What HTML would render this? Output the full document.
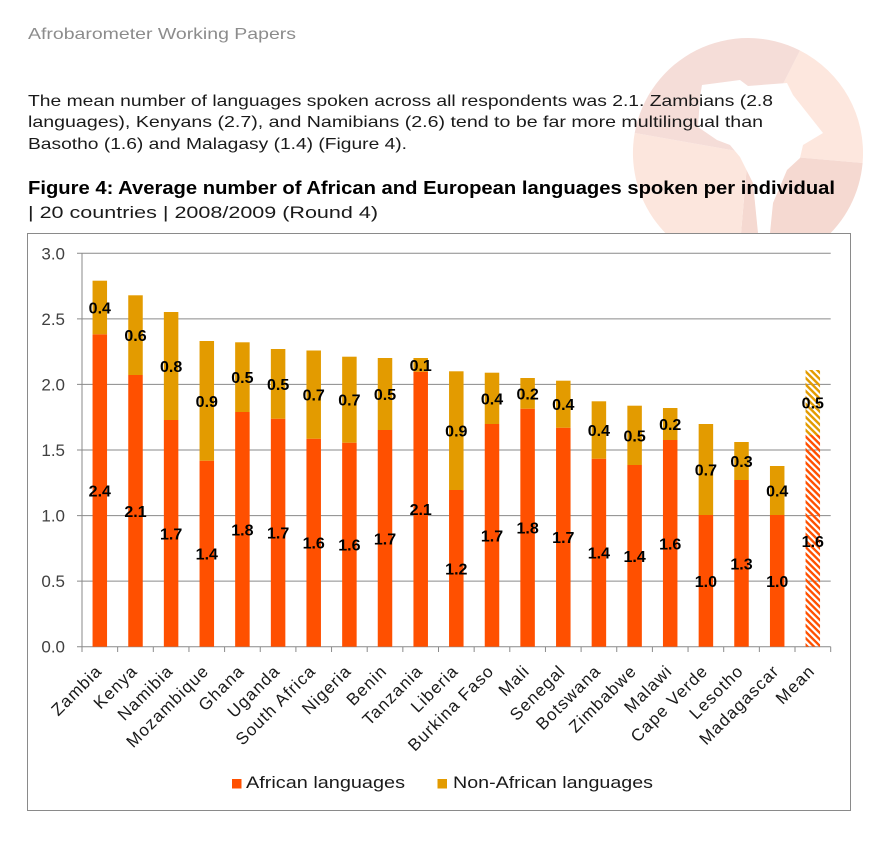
<!DOCTYPE html>
<html><head><meta charset="utf-8">
<style>
html,body{margin:0;padding:0;background:#fff;}
svg{display:block;}
text{font-family:"Liberation Sans",sans-serif;}
</style></head>
<body>
<svg width="871" height="850" viewBox="0 0 871 850" xmlns="http://www.w3.org/2000/svg">
<defs>
<pattern id="hO" width="4.6" height="4.6" patternUnits="userSpaceOnUse" patternTransform="rotate(45)">
<rect x="0" y="0" width="4.6" height="2.4" fill="#FF5000"/>
</pattern>
<pattern id="hG" width="4.6" height="4.6" patternUnits="userSpaceOnUse" patternTransform="rotate(45)">
<rect x="0" y="0" width="4.6" height="2.4" fill="#E39B00"/>
</pattern>
</defs>

<!-- watermark -->
<g>
<path d="M748 153 L800 50.5 A115 115 0 0 1 862.6 163 Z" fill="#fde7de"/>
<path d="M748 153 L862.6 163 A115 115 0 0 1 738 267.6 Z" fill="#f5d9d1"/>
<path d="M748 153 L738 267.6 A115 115 0 0 1 634.7 133 Z" fill="#fce6dd"/>
<path d="M748 153 L634.7 133 A115 115 0 0 1 800 50.5 Z" fill="#f5ddd8"/>
<polygon points="702,85 740,80 748,86 787,83 793,95 823,133 803,145 800,158 787,170 773,203 770,233 758,233 753,183 740,157 730,145 717,140 698,127 700,97" fill="#ffffff"/>
</g>

<!-- header text -->
<text x="28" y="39" font-size="16" fill="#8c8c8c" textLength="268" lengthAdjust="spacingAndGlyphs">Afrobarometer Working Papers</text>
<text x="28" y="106" font-size="16" fill="#1a1a1a" textLength="745" lengthAdjust="spacingAndGlyphs">The mean number of languages spoken across all respondents was 2.1. Zambians (2.8</text>
<text x="28" y="127" font-size="16" fill="#1a1a1a" textLength="735" lengthAdjust="spacingAndGlyphs">languages), Kenyans (2.7), and Namibians (2.6) tend to be far more multilingual than</text>
<text x="28" y="149" font-size="16" fill="#1a1a1a" textLength="379" lengthAdjust="spacingAndGlyphs">Basotho (1.6) and Malagasy (1.4) (Figure 4).</text>
<text x="28" y="194" font-size="18" font-weight="bold" fill="#000" textLength="807" lengthAdjust="spacingAndGlyphs">Figure 4: Average number of African and European languages spoken per individual</text>
<text x="28" y="218" font-size="17" fill="#1a1a1a" textLength="350" lengthAdjust="spacingAndGlyphs">| 20 countries | 2008/2009 (Round 4)</text>

<!-- chart box -->
<rect x="27.5" y="233.5" width="823" height="577" fill="#fff" stroke="#8a8a8a" stroke-width="1"/>

<!-- gridlines -->
<g stroke="#8a8a8a" stroke-width="1">
<line x1="77" y1="253.3" x2="830.7" y2="253.3"/>
<line x1="77" y1="318.9" x2="830.7" y2="318.9"/>
<line x1="77" y1="384.4" x2="830.7" y2="384.4"/>
<line x1="77" y1="450" x2="830.7" y2="450"/>
<line x1="77" y1="515.6" x2="830.7" y2="515.6"/>
<line x1="77" y1="581.1" x2="830.7" y2="581.1"/>
<line x1="77" y1="646.7" x2="830.7" y2="646.7"/>
<line x1="82" y1="253.3" x2="82" y2="646.7"/>
</g>
<!-- x ticks -->
<g stroke="#8a8a8a" stroke-width="1">
<line x1="82" y1="646.7" x2="82" y2="652"/>
<line x1="117.65" y1="646.7" x2="117.65" y2="652"/>
<line x1="153.3" y1="646.7" x2="153.3" y2="652"/>
<line x1="188.95" y1="646.7" x2="188.95" y2="652"/>
<line x1="224.6" y1="646.7" x2="224.6" y2="652"/>
<line x1="260.25" y1="646.7" x2="260.25" y2="652"/>
<line x1="295.9" y1="646.7" x2="295.9" y2="652"/>
<line x1="331.55" y1="646.7" x2="331.55" y2="652"/>
<line x1="367.2" y1="646.7" x2="367.2" y2="652"/>
<line x1="402.85" y1="646.7" x2="402.85" y2="652"/>
<line x1="438.5" y1="646.7" x2="438.5" y2="652"/>
<line x1="474.15" y1="646.7" x2="474.15" y2="652"/>
<line x1="509.8" y1="646.7" x2="509.8" y2="652"/>
<line x1="545.45" y1="646.7" x2="545.45" y2="652"/>
<line x1="581.1" y1="646.7" x2="581.1" y2="652"/>
<line x1="616.75" y1="646.7" x2="616.75" y2="652"/>
<line x1="652.4" y1="646.7" x2="652.4" y2="652"/>
<line x1="688.05" y1="646.7" x2="688.05" y2="652"/>
<line x1="723.7" y1="646.7" x2="723.7" y2="652"/>
<line x1="759.35" y1="646.7" x2="759.35" y2="652"/>
<line x1="795" y1="646.7" x2="795" y2="652"/>
<line x1="830.7" y1="646.7" x2="830.7" y2="652"/>
</g>

<!-- y labels -->
<g font-size="17" fill="#404040" text-anchor="end">
<text x="65" y="259.3">3.0</text>
<text x="65" y="324.9">2.5</text>
<text x="65" y="390.4">2.0</text>
<text x="65" y="456">1.5</text>
<text x="65" y="521.6">1.0</text>
<text x="65" y="587.1">0.5</text>
<text x="65" y="652.7">0.0</text>
</g>

<!-- bars: African (orange) -->
<g fill="#FF5000">
<rect x="92.55" y="334.3" width="14.5" height="312.4"/>
<rect x="128.25" y="375" width="14.5" height="271.7"/>
<rect x="163.85" y="420" width="14.5" height="226.7"/>
<rect x="199.55" y="460.7" width="14.5" height="186"/>
<rect x="235.15" y="412" width="14.5" height="234.7"/>
<rect x="270.85" y="418.7" width="14.5" height="228"/>
<rect x="306.45" y="438.7" width="14.5" height="208"/>
<rect x="342.15" y="442.7" width="14.5" height="204"/>
<rect x="377.75" y="430" width="14.5" height="216.7"/>
<rect x="413.45" y="371.7" width="14.5" height="275"/>
<rect x="449.05" y="490" width="14.5" height="156.7"/>
<rect x="484.75" y="424" width="14.5" height="222.7"/>
<rect x="520.35" y="408.7" width="14.5" height="238"/>
<rect x="556.05" y="427.7" width="14.5" height="219"/>
<rect x="591.65" y="458.7" width="14.5" height="188"/>
<rect x="627.35" y="465" width="14.5" height="181.7"/>
<rect x="662.95" y="440" width="14.5" height="206.7"/>
<rect x="698.65" y="515" width="14.5" height="131.7"/>
<rect x="734.25" y="480" width="14.5" height="166.7"/>
<rect x="769.95" y="515" width="14.5" height="131.7"/>
</g>
<!-- bars: Non-African (gold) -->
<g fill="#E39B00">
<rect x="92.55" y="280.7" width="14.5" height="53.6"/>
<rect x="128.25" y="295.3" width="14.5" height="79.7"/>
<rect x="163.85" y="312" width="14.5" height="108"/>
<rect x="199.55" y="341" width="14.5" height="119.7"/>
<rect x="235.15" y="342.3" width="14.5" height="69.7"/>
<rect x="270.85" y="349" width="14.5" height="69.7"/>
<rect x="306.45" y="350.5" width="14.5" height="88.2"/>
<rect x="342.15" y="356.7" width="14.5" height="86"/>
<rect x="377.75" y="358" width="14.5" height="72"/>
<rect x="413.45" y="358" width="14.5" height="13.7"/>
<rect x="449.05" y="371.3" width="14.5" height="118.7"/>
<rect x="484.75" y="372.7" width="14.5" height="51.3"/>
<rect x="520.35" y="378" width="14.5" height="30.7"/>
<rect x="556.05" y="380.7" width="14.5" height="47"/>
<rect x="591.65" y="401.3" width="14.5" height="57.4"/>
<rect x="627.35" y="405.7" width="14.5" height="59.3"/>
<rect x="662.95" y="408" width="14.5" height="32"/>
<rect x="698.65" y="424" width="14.5" height="91"/>
<rect x="734.25" y="442" width="14.5" height="38"/>
<rect x="769.95" y="466" width="14.5" height="49"/>
</g>
<!-- mean hatched -->
<rect x="805.55" y="435" width="14.5" height="211.7" fill="url(#hO)"/>
<rect x="805.55" y="370" width="14.5" height="65" fill="url(#hG)"/>

<!-- value labels -->
<g font-size="16" font-weight="bold" fill="#000" text-anchor="middle">
<text x="99.8" y="313.5">0.4</text><text x="99.8" y="496.5">2.4</text>
<text x="135.5" y="341.2">0.6</text><text x="135.5" y="516.9">2.1</text>
<text x="171.1" y="372">0.8</text><text x="171.1" y="539.4">1.7</text>
<text x="206.8" y="406.9">0.9</text><text x="206.8" y="559.7">1.4</text>
<text x="242.4" y="383.2">0.5</text><text x="242.4" y="535.4">1.8</text>
<text x="278.1" y="389.9">0.5</text><text x="278.1" y="538.7">1.7</text>
<text x="313.7" y="400.6">0.7</text><text x="313.7" y="548.7">1.6</text>
<text x="349.4" y="405.7">0.7</text><text x="349.4" y="550.7">1.6</text>
<text x="385" y="400">0.5</text><text x="385" y="544.4">1.7</text>
<text x="420.7" y="370.9">0.1</text><text x="420.7" y="515.2">2.1</text>
<text x="456.3" y="436.7">0.9</text><text x="456.3" y="574.4">1.2</text>
<text x="492" y="404.4">0.4</text><text x="492" y="541.4">1.7</text>
<text x="527.6" y="399.4">0.2</text><text x="527.6" y="533.7">1.8</text>
<text x="563.3" y="410.2">0.4</text><text x="563.3" y="543.2">1.7</text>
<text x="598.9" y="436">0.4</text><text x="598.9" y="558.7">1.4</text>
<text x="634.6" y="441.4">0.5</text><text x="634.6" y="561.9">1.4</text>
<text x="670.2" y="430">0.2</text><text x="670.2" y="549.4">1.6</text>
<text x="705.9" y="475.5">0.7</text><text x="705.9" y="586.9">1.0</text>
<text x="741.5" y="467">0.3</text><text x="741.5" y="569.4">1.3</text>
<text x="777.2" y="496.5">0.4</text><text x="777.2" y="586.9">1.0</text>
<text x="812.8" y="408.5">0.5</text><text x="812.8" y="546.9">1.6</text>
</g>

<!-- x labels -->
<g font-size="17" fill="#1a1a1a" text-anchor="end" letter-spacing="1.1">
<text transform="translate(103,672) rotate(-45)">Zambia</text>
<text transform="translate(138.5,672) rotate(-45)">Kenya</text>
<text transform="translate(174.1,672) rotate(-45)">Namibia</text>
<text transform="translate(209.8,672) rotate(-45)">Mozambique</text>
<text transform="translate(245.4,672) rotate(-45)">Ghana</text>
<text transform="translate(281.1,672) rotate(-45)">Uganda</text>
<text transform="translate(316.7,672) rotate(-45)">South Africa</text>
<text transform="translate(352.4,672) rotate(-45)">Nigeria</text>
<text transform="translate(388,672) rotate(-45)">Benin</text>
<text transform="translate(423.7,672) rotate(-45)">Tanzania</text>
<text transform="translate(459.3,672) rotate(-45)">Liberia</text>
<text transform="translate(495,672) rotate(-45)">Burkina Faso</text>
<text transform="translate(530.6,672) rotate(-45)">Mali</text>
<text transform="translate(566.3,672) rotate(-45)">Senegal</text>
<text transform="translate(601.9,672) rotate(-45)">Botswana</text>
<text transform="translate(637.6,672) rotate(-45)">Zimbabwe</text>
<text transform="translate(673.2,672) rotate(-45)">Malawi</text>
<text transform="translate(708.9,672) rotate(-45)">Cape Verde</text>
<text transform="translate(744.5,672) rotate(-45)">Lesotho</text>
<text transform="translate(780.2,672) rotate(-45)">Madagascar</text>
<text transform="translate(815.8,672) rotate(-45)">Mean</text>
</g>

<!-- legend -->
<rect x="232" y="779" width="9.5" height="9.5" fill="#FF5000"/>
<text x="246" y="788" font-size="17" fill="#1a1a1a" textLength="159" lengthAdjust="spacingAndGlyphs">African languages</text>
<rect x="437.5" y="779" width="9.5" height="9.5" fill="#E39B00"/>
<text x="453" y="788" font-size="17" fill="#1a1a1a" textLength="200" lengthAdjust="spacingAndGlyphs">Non-African languages</text>
</svg>
</body></html>
